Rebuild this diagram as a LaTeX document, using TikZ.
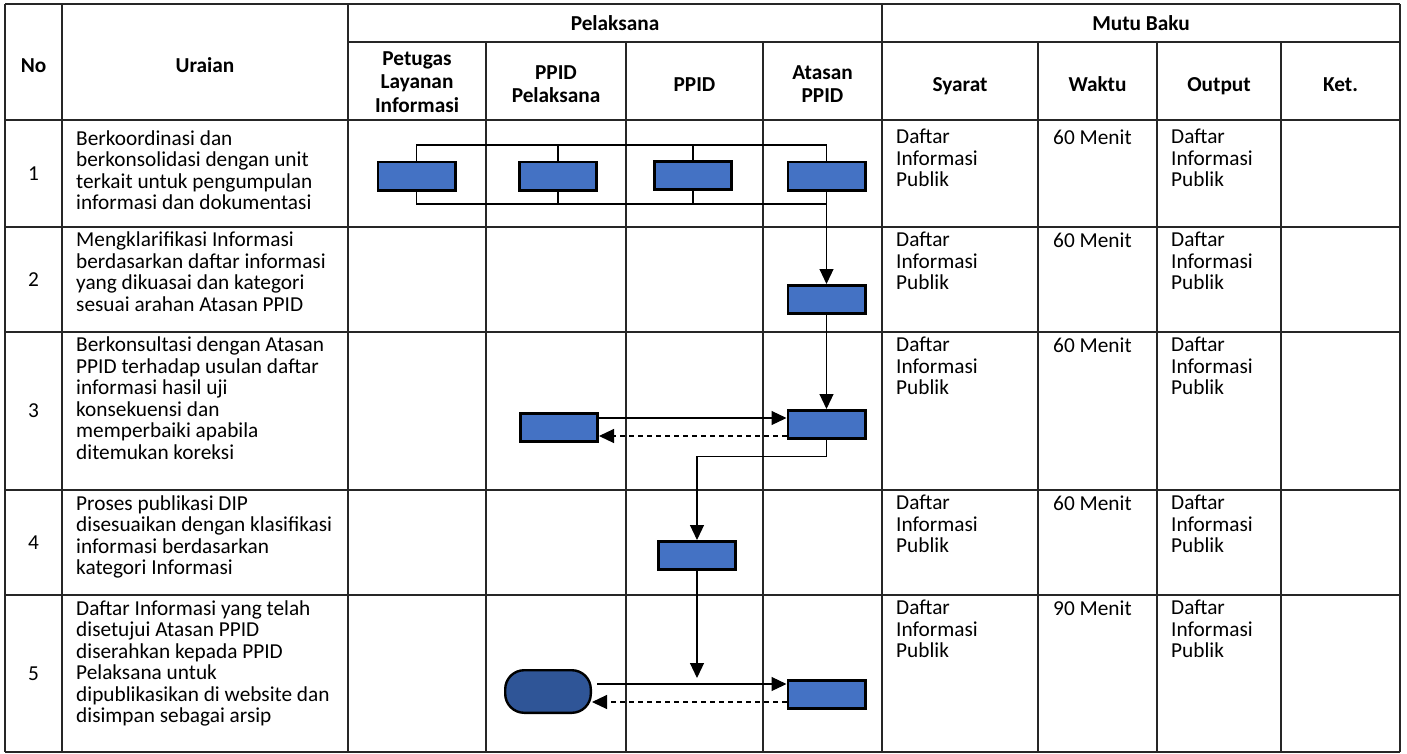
\documentclass[tikz,border=0pt]{standalone}
\usepackage{fontspec}
\setmainfont{Carlito}
\usetikzlibrary{arrows.meta}
\definecolor{boxblue}{HTML}{4472C4}
\definecolor{termblue}{HTML}{2F5597}
\begin{document}
\begin{tikzpicture}[x=1pt,y=-1pt,
  grid/.style={line width=1.2pt, draw=black!85},
  box/.style={draw=black, line width=2.6pt, fill=boxblue, minimum width=77.4pt, minimum height=28.4pt, inner sep=0pt},
  term/.style={draw=black, line width=2.4pt, fill=termblue, minimum width=85.6pt, minimum height=42.6pt, rounded corners=19pt, inner sep=0pt},
  conn/.style={line width=1.1pt, draw=black},
  arr/.style={conn, -{Triangle[length=15pt,width=14pt]}},
  dsh/.style={arr, dash pattern=on 5pt off 4pt},
  body/.style={font=\fontsize{21.3}{21.5}\selectfont, align=left, anchor=north west, inner sep=0pt, execute at begin node=\strut},
  num/.style={font=\fontsize{21.3}{21.5}\selectfont, inner sep=0pt},
  hd/.style={font=\bfseries\fontsize{21.3}{23.5}\selectfont, align=center, inner sep=0pt},
  hdb/.style={hd, anchor=base}]
\useasboundingbox (0,0) rectangle (1407,753);
\fill[white] (0,0) rectangle (1407,753);
% table grid
\draw[grid] (5,4) -- (1400,4);
\draw[grid] (348,42) -- (1400,42);
\foreach \yy in {120,227,332,490,595,752} \draw[grid] (5,\yy) -- (1400,\yy);
\foreach \xx in {5,62,348,882,1400} \draw[grid] (\xx,4) -- (\xx,752);
\foreach \xx in {486,626,763,1038,1157,1281} \draw[grid] (\xx,42) -- (\xx,752);
% headers
\node[hdb] (hNo) at (33.5,72) {No};
\node[hdb] (hUr) at (205,72) {Uraian};
\node[hdb] (hPel) at (615,30) {Pelaksana};
\node[hdb] (hMutu) at (1141,30) {Mutu Baku};
\node[hd] (hPLI) at (417,82) {Petugas\\Layanan\\Informasi};
\node[hd] (hPP) at (556,84) {PPID\\Pelaksana};
\node[hdb] (hPPID) at (694.5,91) {PPID};
\node[hd] (hAt) at (822.5,84) {Atasan\\PPID};
\node[hdb] (hSy) at (960,91) {Syarat};
\node[hdb] (hWa) at (1097.5,91) {Waktu};
\node[hdb] (hOu) at (1219,91) {Output};
\node[hdb] (hKe) at (1340.5,91) {Ket.};
% numbers
\node[num] (n1) at (33.5,173.5) {1};
\node[num] (n2) at (33.5,279.5) {2};
\node[num] (n3) at (33.5,411) {3};
\node[num] (n4) at (33.5,542.5) {4};
\node[num] (n5) at (33.5,673.5) {5};
% uraian
\node[body] (u1) at (76,130.5) {Berkoordinasi dan\\berkonsolidasi dengan unit\\terkait untuk pengumpulan\\informasi dan dokumentasi};
\node[body] (u2) at (76,232) {Mengklarifikasi Informasi\\berdasarkan daftar informasi\\yang dikuasai dan kategori\\sesuai arahan Atasan PPID};
\node[body] (u3) at (76,337) {Berkonsultasi dengan Atasan\\PPID terhadap usulan daftar\\informasi hasil uji\\konsekuensi dan\\memperbaiki apabila\\ditemukan koreksi};
\node[body] (u4) at (76,495) {Proses publikasi DIP\\disesuaikan dengan klasifikasi\\informasi berdasarkan\\kategori Informasi};
\node[body] (u5) at (76,600) {Daftar Informasi yang telah\\disetujui Atasan PPID\\diserahkan kepada PPID\\Pelaksana untuk\\dipublikasikan di website dan\\disimpan sebagai arsip};
% mutu baku
\foreach \r/\yy/\w in {1/129/60, 2/232/60, 3/337/60, 4/495/60, 5/600/90} {
  \node[body] (sy\r) at (896,\yy) {Daftar\\Informasi\\Publik};
  \node[body] (wa\r) at (1053,\yy) {\w{} Menit};
  \node[body] (ou\r) at (1171,\yy) {Daftar\\Informasi\\Publik};
}
% flow boxes
\node[box] (b1a) at (416.5,176) {};
\node[box] (b1b) at (558,176) {};
\node[box] (b1c) at (693,175.5) {};
\node[box] (b1d) at (826.5,176) {};
\node[box] (b2) at (826.5,299.5) {};
\node[box] (b3l) at (559,427.5) {};
\node[box] (b3r) at (826.5,424.5) {};
\node[box] (b4) at (697,555.5) {};
\node[term] (t5) at (548,691.5) {};
\node[box] (b5) at (826.5,694.5) {};
% row 1 bracket
\draw[conn] (b1a.north) -- (b1a.north |- 0,145) -- (b1d.north |- 0,145) -- (b1d.north);
\draw[conn] (b1b.north) -- (b1b.north |- 0,145);
\draw[conn] (b1c.north) -- (b1c.north |- 0,145);
\draw[conn] (b1a.south) -- (b1a.south |- 0,204) -- (b1d.south |- 0,204);
\draw[conn] (b1b.south) -- (b1b.south |- 0,204);
\draw[conn] (b1c.south) -- (b1c.south |- 0,204);
% flow arrows
\draw[arr] (b1d.south) -- (b2.north);
\draw[arr] (b2.south) -- (b3r.north);
\draw[arr] (b3l.east |- 0,418) -- (b3r.west |- 0,418);
\draw[dsh] (b3r.west |- 0,436) -- (b3l.east |- 0,436);
\draw[arr] (b3r.south) -- (b3r.south |- 0,456.5) -| (b4.north);
\coordinate (e5) at (697,678);
\draw[arr] (b4.south) -- (e5);
\draw[arr] ([xshift=5pt]t5.east |- 0,684) -- (b5.west |- 0,684);
\draw[dsh] (b5.west |- 0,702) -- (t5.east |- 0,702);
\end{tikzpicture}
\end{document}
